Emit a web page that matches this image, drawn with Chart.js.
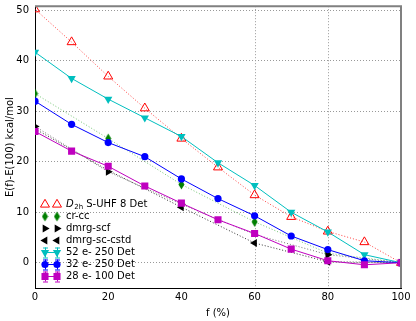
<!DOCTYPE html>
<html>
<head>
<meta charset="utf-8">
<script src="https://cdn.jsdelivr.net/npm/chart.js@4/dist/chart.umd.min.js"></script>
<style>
  html, body { margin: 0; padding: 0; background: #fff; }
  #wrap { width: 416px; height: 321px; }
</style>
</head>
<body>
<div id="wrap"><canvas id="energiaChart"></canvas></div>
<script>
// valores
const fPontos = [0, 10, 20, 30, 40, 50, 60, 70, 80, 90, 100];
const fPassos20 = [0, 20, 40, 60, 80, 100];

const uhf8Det = [50.2, 43.7, 36.9, 30.6, 24.6, 18.9, 13.4, 9.1, 6.2, 4.1, 0];
const e52Det250 = [41.7, 36.5, 32.4, 28.7, 25.0, 19.8, 15.3, 10.0, 6.1, 1.6, 0];
const e32Det250 = [32.0, 27.4, 23.8, 21.0, 16.6, 12.7, 9.3, 5.3, 2.6, 0.4, 0];
const e28Det100 = [26.0, 22.1, 19.1, 15.2, 11.8, 8.5, 5.8, 2.7, 0.4, -0.4, 0];

const crcc = [33.5, 24.6, 15.5, 8.1, 1.9, 0];
const dmrgScf = [27.0, 18.0, 11.6, 5.6, 1.6, 0];
const dmrgScCstd = [26.5, 18.3, 11.0, 3.9, 0.2, 0];

const xTicks = [0, 20, 40, 60, 80, 100];
const yTicks = [0, 10, 20, 30, 40, 50];
const xGradeVisivel = [60, 80];

const rotulos = ['D2h S-UHF 8 Det', 'cr-cc', 'dmrg-scf', 'dmrg-sc-cstd',
  '52 e- 250 Det', '32 e- 250 Det', '28 e- 100 Det'];

Chart.defaults.font.family = "'DejaVu Sans', sans-serif";
Chart.defaults.font.size = 10;
Chart.defaults.color = '#000';

// losango fino (marcador 'd' do matplotlib)
const losango = document.createElement('canvas');
losango.width = 7;
losango.height = 11;
(function () {
  const c = losango.getContext('2d');
  c.fillStyle = '#007f00';
  c.beginPath();
  c.moveTo(3.5, 0.5);
  c.lineTo(6.5, 5.5);
  c.lineTo(3.5, 10.5);
  c.lineTo(0.5, 5.5);
  c.closePath();
  c.fill();
})();

const pares = (xs, ys) => xs.map((x, i) => ({ x: x, y: ys[i] }));

const datasets = [
  {
    label: rotulos[6], data: pares(fPontos, e28Det100),
    borderColor: '#bf00bf', backgroundColor: '#bf00bf', borderWidth: 1,
    pointStyle: 'rect', pointRadius: 5, pointBorderWidth: 0,
    legenda: 6, linhaLegenda: true, erro: true
  },
  {
    label: rotulos[5], data: pares(fPontos, e32Det250),
    borderColor: '#0000ff', backgroundColor: '#0000ff', borderWidth: 1,
    pointStyle: 'circle', pointRadius: 3.6, pointBorderWidth: 0,
    legenda: 5, linhaLegenda: true, erro: true
  },
  {
    label: rotulos[4], data: pares(fPontos, e52Det250),
    borderColor: '#00bfbf', backgroundColor: '#00bfbf', borderWidth: 1,
    pointStyle: 'triangle', pointRotation: 180, pointRadius: 4.8, pointBorderWidth: 0,
    legenda: 4, linhaLegenda: true, erro: true
  },
  {
    label: rotulos[3], data: pares(fPassos20, dmrgScCstd),
    borderColor: '#333', backgroundColor: '#000', borderWidth: 1, borderDash: [1, 2],
    pointStyle: 'triangle', pointRotation: -90,
    pointRadius: [0, 0, 4.6, 4.6, 4.6, 4.6], pointBorderWidth: 0,
    pointBorderColor: '#000', legenda: 3
  },
  {
    label: rotulos[2], data: pares(fPassos20, dmrgScf),
    borderColor: '#777', backgroundColor: '#000', borderWidth: 1, borderDash: [1, 2],
    pointStyle: 'triangle', pointRotation: 90,
    pointRadius: [4.6, 4.6, 4.6, 0, 4.6, 4.6], pointBorderWidth: 0,
    pointBorderColor: '#000', legenda: 2
  },
  {
    label: rotulos[1], data: pares(fPassos20, crcc),
    borderColor: 'rgba(0,150,0,0.55)', backgroundColor: '#007f00', borderWidth: 1, borderDash: [1, 2],
    pointStyle: losango, pointRadius: 5, pointBorderWidth: 0,
    legenda: 1
  },
  {
    label: rotulos[0], data: pares(fPontos, uhf8Det),
    borderColor: 'rgba(255,0,0,0.75)', backgroundColor: 'rgba(255,255,255,0)', borderWidth: 1, borderDash: [1, 2],
    pointStyle: 'triangle', pointRadius: 5.2, pointBorderWidth: 1,
    pointBorderColor: '#ff0000', legenda: 0
  }
];
datasets.forEach(d => { d.clip = 0; d.tension = 0; d.fill = false; });

// grade vertical so em 60 e 80, como no original
const gradeVertical = {
  id: 'gradeVertical',
  beforeDatasetsDraw(chart) {
    const { ctx, chartArea: a, scales: { x } } = chart;
    ctx.save();
    ctx.strokeStyle = '#999';
    ctx.lineWidth = 1;
    ctx.setLineDash([1, 2]);
    xGradeVisivel.forEach(v => {
      const px = Math.round(x.getPixelForValue(v)) + 0.5;
      ctx.beginPath();
      ctx.moveTo(px, a.top);
      ctx.lineTo(px, a.bottom);
      ctx.stroke();
    });
    ctx.restore();
  }
};

// moldura: topo e direita em cinza
const moldura = {
  id: 'moldura',
  afterDraw(chart) {
    const { ctx, chartArea: a } = chart;
    ctx.save();
    ctx.strokeStyle = '#808080';
    ctx.lineWidth = 2;
    ctx.beginPath();
    ctx.moveTo(a.left, a.top);
    ctx.lineTo(a.right, a.top);
    ctx.lineTo(a.right, a.bottom);
    ctx.stroke();
    ctx.restore();
  }
};

// legenda no estilo do matplotlib (dois marcadores por linha)
const legenda = {
  id: 'legendaMpl',
  afterDraw(chart) {
    const ctx = chart.ctx;
    const itens = chart.data.datasets.slice().sort((a, b) => a.legenda - b.legenda);
    itens.forEach((d, i) => {
      const y = 204.5 + i * 12;
      const x1 = 45, x2 = 57;
      ctx.save();
      if (d.linhaLegenda) {
        ctx.strokeStyle = d.borderColor;
        ctx.lineWidth = 1;
        ctx.beginPath();
        ctx.moveTo(x1, y);
        ctx.lineTo(x2, y);
        ctx.stroke();
      }
      if (d.erro) {
        ctx.strokeStyle = d.borderColor;
        ctx.lineWidth = 1;
        [x1, x2].forEach(x => {
          ctx.beginPath();
          ctx.moveTo(x + 0.5, y - 5);
          ctx.lineTo(x + 0.5, y + 5);
          ctx.moveTo(x - 2, y - 5 + 0.5);
          ctx.lineTo(x + 3, y - 5 + 0.5);
          ctx.moveTo(x - 2, y + 5 + 0.5);
          ctx.lineTo(x + 3, y + 5 + 0.5);
          ctx.stroke();
        });
      }
      ctx.fillStyle = d.backgroundColor;
      ctx.strokeStyle = d.pointBorderColor || d.borderColor;
      const r = Array.isArray(d.pointRadius) ? 4.6 : d.pointRadius;
      [x1, x2].forEach(x => {
        Chart.helpers.drawPoint(ctx, {
          pointStyle: d.pointStyle, rotation: d.pointRotation || 0,
          radius: r, borderWidth: d.pointBorderWidth
        }, x, y);
      });
      ctx.fillStyle = '#000';
      ctx.textBaseline = 'middle';
      ctx.textAlign = 'left';
      let tx = 66;
      let texto = d.label;
      if (texto.startsWith('D2h')) {
        ctx.font = "italic 10px 'DejaVu Sans'";
        ctx.fillText('D', tx, y);
        tx += ctx.measureText('D').width + 0.5;
        ctx.font = "7px 'DejaVu Sans'";
        ctx.fillText('2h', tx, y + 3);
        tx += ctx.measureText('2h').width;
        texto = texto.slice(3);
      }
      ctx.font = "10px 'DejaVu Sans'";
      ctx.fillText(texto, tx, y);
      ctx.restore();
    });
  }
};

const ctx = document.getElementById('energiaChart').getContext('2d');
new Chart(ctx, {
  type: 'line',
  data: { datasets: datasets },
  options: {
    responsive: true,
    maintainAspectRatio: false,
    animation: false,
    layout: { padding: { left: 0, right: 15, top: 6, bottom: 0 } },
    plugins: {
      legend: { display: false },
      tooltip: { enabled: false }
    },
    scales: {
      x: {
        type: 'linear', min: 0, max: 100,
        afterBuildTicks: s => { s.ticks = xTicks.map(v => ({ value: v })); },
        afterFit: s => { s.height = 33; },
        ticks: { padding: 3, maxRotation: 0, font: { size: 10 } },
        grid: { display: false, drawTicks: false },
        border: { color: '#000', width: 1 },
        title: { display: true, text: 'f (%)', padding: { top: 0, bottom: 2 }, font: { size: 10 } }
      },
      y: {
        min: -5, max: 50.8,
        afterBuildTicks: s => { s.ticks = yTicks.map(v => ({ value: v })); },
        afterFit: s => { s.width = 35; s.paddingTop = 0; s.paddingBottom = 0; },
        ticks: { padding: 6, font: { size: 10 } },
        grid: { drawTicks: false, color: '#999', lineWidth: 1 },
        border: { color: '#000', width: 1, dash: [1, 2] },
        title: { display: true, text: 'E(f)-E(100) kcal/mol', padding: { top: 4, bottom: 0 }, font: { size: 10 } }
      }
    }
  },
  plugins: [gradeVertical, moldura, legenda]
});
</script>
</body>
</html>
